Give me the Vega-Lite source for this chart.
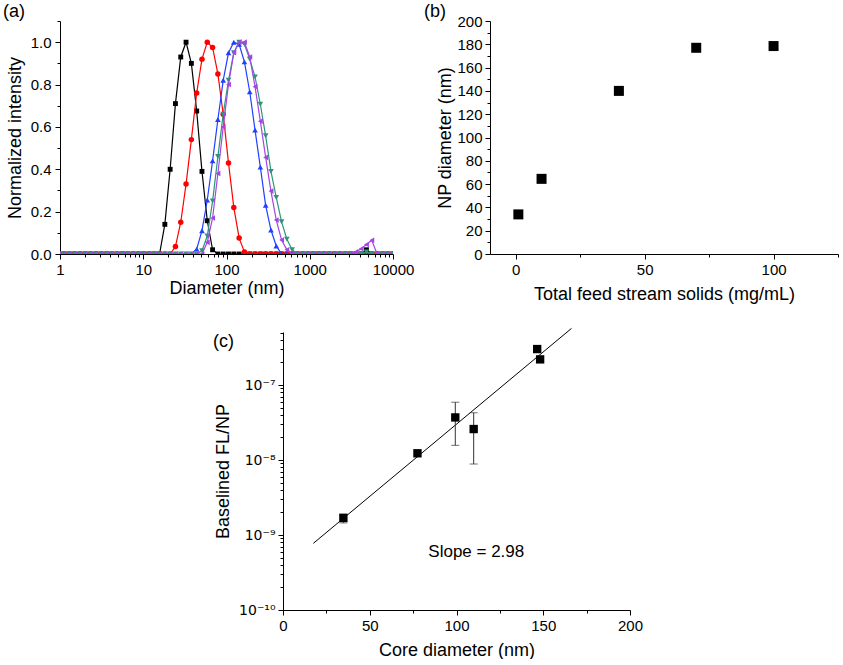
{
"$schema": "https://vega.github.io/schema/vega-lite/v6.json",
"padding": {"left": 3, "top": 3, "right": 0, "bottom": 0},
"background": "white",
"config": {
 "font": "Liberation Sans",
 "view": {"stroke": null},
 "axis": {"labelFont": "Liberation Sans", "titleFont": "Liberation Sans", "labelFontSize": 15, "titleFontSize": 18, "titleFontWeight": "normal", "labelColor": "#000", "titleColor": "#000", "domainColor": "#000", "tickColor": "#000", "grid": false, "labelPadding": 3, "titlePadding": 5, "labelFlush": false, "labelOverlap": false, "tickSize": 5},
 "title": {"font": "Liberation Sans", "fontSize": 18, "fontWeight": "normal", "anchor": "start", "frame": "group", "baseline": "alphabetic", "color": "#000"}
},
"datasets": {
 "dls": [
{"s":"k","d":0.9649,"v":0},{"s":"k","d":1.117,"v":0},{"s":"k","d":1.294,"v":0},{"s":"k","d":1.499,"v":0},{"s":"k","d":1.736,"v":0},{"s":"k","d":2.01,"v":0},{"s":"k","d":2.328,"v":0},{"s":"k","d":2.696,"v":0},{"s":"k","d":3.122,"v":0},{"s":"k","d":3.615,"v":0},{"s":"k","d":4.187,"v":0},{"s":"k","d":4.849,"v":0},{"s":"k","d":5.615,"v":0},{"s":"k","d":6.503,"v":0},{"s":"k","d":7.531,"v":0},{"s":"k","d":8.721,"v":0},{"s":"k","d":10.1,"v":0},{"s":"k","d":11.7,"v":0},{"s":"k","d":13.54,"v":0},{"s":"k","d":15.69,"v":0},{"s":"k","d":18.17,"v":0.14},{"s":"k","d":21.04,"v":0.4},{"s":"k","d":24.36,"v":0.71},{"s":"k","d":28.21,"v":0.93},{"s":"k","d":32.67,"v":1},{"s":"k","d":37.84,"v":0.9},{"s":"k","d":43.82,"v":0.675},{"s":"k","d":50.75,"v":0.39},{"s":"k","d":58.77,"v":0.157},{"s":"k","d":68.06,"v":0.02},{"s":"k","d":78.82,"v":0},{"s":"k","d":91.28,"v":0},{"s":"k","d":105.7,"v":0},{"s":"k","d":122.4,"v":0},{"s":"k","d":141.8,"v":0},{"s":"k","d":164.2,"v":0},{"s":"k","d":190.1,"v":0},{"s":"k","d":220.2,"v":0},{"s":"k","d":255,"v":0},{"s":"k","d":295.3,"v":0},{"s":"k","d":342,"v":0},{"s":"k","d":396.1,"v":0},{"s":"k","d":458.7,"v":0},{"s":"k","d":531.2,"v":0},{"s":"k","d":615.1,"v":0},{"s":"k","d":712.4,"v":0},{"s":"k","d":825,"v":0},{"s":"k","d":955.4,"v":0},{"s":"k","d":1106,"v":0},{"s":"k","d":1281,"v":0},{"s":"k","d":1484,"v":0},{"s":"k","d":1718,"v":0},{"s":"k","d":1990,"v":0},{"s":"k","d":2305,"v":0},{"s":"k","d":2669,"v":0},{"s":"k","d":3091,"v":0},{"s":"k","d":3580,"v":0},{"s":"k","d":4145,"v":0},{"s":"k","d":4801,"v":0.02},{"s":"k","d":5560,"v":0},{"s":"k","d":6439,"v":0},{"s":"k","d":7456,"v":0},{"s":"k","d":8635,"v":0},{"s":"k","d":10000,"v":0},
{"s":"r","d":0.9649,"v":0},{"s":"r","d":1.117,"v":0},{"s":"r","d":1.294,"v":0},{"s":"r","d":1.499,"v":0},{"s":"r","d":1.736,"v":0},{"s":"r","d":2.01,"v":0},{"s":"r","d":2.328,"v":0},{"s":"r","d":2.696,"v":0},{"s":"r","d":3.122,"v":0},{"s":"r","d":3.615,"v":0},{"s":"r","d":4.187,"v":0},{"s":"r","d":4.849,"v":0},{"s":"r","d":5.615,"v":0},{"s":"r","d":6.503,"v":0},{"s":"r","d":7.531,"v":0},{"s":"r","d":8.721,"v":0},{"s":"r","d":10.1,"v":0},{"s":"r","d":11.7,"v":0},{"s":"r","d":13.54,"v":0},{"s":"r","d":15.69,"v":0},{"s":"r","d":18.17,"v":0},{"s":"r","d":21.04,"v":0},{"s":"r","d":24.36,"v":0.035},{"s":"r","d":28.21,"v":0.15},{"s":"r","d":32.67,"v":0.33},{"s":"r","d":37.84,"v":0.54},{"s":"r","d":43.82,"v":0.76},{"s":"r","d":50.75,"v":0.92},{"s":"r","d":58.77,"v":1},{"s":"r","d":68.06,"v":0.975},{"s":"r","d":78.82,"v":0.85},{"s":"r","d":91.28,"v":0.66},{"s":"r","d":105.7,"v":0.43},{"s":"r","d":122.4,"v":0.22},{"s":"r","d":141.8,"v":0.075},{"s":"r","d":164.2,"v":0.01},{"s":"r","d":190.1,"v":0},{"s":"r","d":220.2,"v":0},{"s":"r","d":255,"v":0},{"s":"r","d":295.3,"v":0},{"s":"r","d":342,"v":0},{"s":"r","d":396.1,"v":0},{"s":"r","d":458.7,"v":0},{"s":"r","d":531.2,"v":0},{"s":"r","d":615.1,"v":0},{"s":"r","d":712.4,"v":0},{"s":"r","d":825,"v":0},{"s":"r","d":955.4,"v":0},{"s":"r","d":1106,"v":0},{"s":"r","d":1281,"v":0},{"s":"r","d":1484,"v":0},{"s":"r","d":1718,"v":0},{"s":"r","d":1990,"v":0},{"s":"r","d":2305,"v":0},{"s":"r","d":2669,"v":0},{"s":"r","d":3091,"v":0},{"s":"r","d":3580,"v":0},{"s":"r","d":4145,"v":0},{"s":"r","d":4801,"v":0},{"s":"r","d":5560,"v":0},{"s":"r","d":6439,"v":0},{"s":"r","d":7456,"v":0},{"s":"r","d":8635,"v":0},{"s":"r","d":10000,"v":0},
{"s":"b","d":0.9649,"v":0},{"s":"b","d":1.117,"v":0},{"s":"b","d":1.294,"v":0},{"s":"b","d":1.499,"v":0},{"s":"b","d":1.736,"v":0},{"s":"b","d":2.01,"v":0},{"s":"b","d":2.328,"v":0},{"s":"b","d":2.696,"v":0},{"s":"b","d":3.122,"v":0},{"s":"b","d":3.615,"v":0},{"s":"b","d":4.187,"v":0},{"s":"b","d":4.849,"v":0},{"s":"b","d":5.615,"v":0},{"s":"b","d":6.503,"v":0},{"s":"b","d":7.531,"v":0},{"s":"b","d":8.721,"v":0},{"s":"b","d":10.1,"v":0},{"s":"b","d":11.7,"v":0},{"s":"b","d":13.54,"v":0},{"s":"b","d":15.69,"v":0},{"s":"b","d":18.17,"v":0},{"s":"b","d":21.04,"v":0},{"s":"b","d":24.36,"v":0},{"s":"b","d":28.21,"v":0},{"s":"b","d":32.67,"v":0},{"s":"b","d":37.84,"v":0},{"s":"b","d":43.82,"v":0.023},{"s":"b","d":50.75,"v":0.11},{"s":"b","d":58.77,"v":0.255},{"s":"b","d":68.06,"v":0.44},{"s":"b","d":78.82,"v":0.635},{"s":"b","d":91.28,"v":0.82},{"s":"b","d":105.7,"v":0.95},{"s":"b","d":122.4,"v":1},{"s":"b","d":141.8,"v":0.99},{"s":"b","d":164.2,"v":0.907},{"s":"b","d":190.1,"v":0.766},{"s":"b","d":220.2,"v":0.585},{"s":"b","d":255,"v":0.41},{"s":"b","d":295.3,"v":0.23},{"s":"b","d":342,"v":0.113},{"s":"b","d":396.1,"v":0.038},{"s":"b","d":458.7,"v":0},{"s":"b","d":531.2,"v":0},{"s":"b","d":615.1,"v":0},{"s":"b","d":712.4,"v":0},{"s":"b","d":825,"v":0},{"s":"b","d":955.4,"v":0},{"s":"b","d":1106,"v":0},{"s":"b","d":1281,"v":0},{"s":"b","d":1484,"v":0},{"s":"b","d":1718,"v":0},{"s":"b","d":1990,"v":0},{"s":"b","d":2305,"v":0},{"s":"b","d":2669,"v":0},{"s":"b","d":3091,"v":0},{"s":"b","d":3580,"v":0},{"s":"b","d":4145,"v":0},{"s":"b","d":4801,"v":0},{"s":"b","d":5560,"v":0},{"s":"b","d":6439,"v":0},{"s":"b","d":7456,"v":0},{"s":"b","d":8635,"v":0},{"s":"b","d":10000,"v":0},
{"s":"g","d":0.9649,"v":0},{"s":"g","d":1.117,"v":0},{"s":"g","d":1.294,"v":0},{"s":"g","d":1.499,"v":0},{"s":"g","d":1.736,"v":0},{"s":"g","d":2.01,"v":0},{"s":"g","d":2.328,"v":0},{"s":"g","d":2.696,"v":0},{"s":"g","d":3.122,"v":0},{"s":"g","d":3.615,"v":0},{"s":"g","d":4.187,"v":0},{"s":"g","d":4.849,"v":0},{"s":"g","d":5.615,"v":0},{"s":"g","d":6.503,"v":0},{"s":"g","d":7.531,"v":0},{"s":"g","d":8.721,"v":0},{"s":"g","d":10.1,"v":0},{"s":"g","d":11.7,"v":0},{"s":"g","d":13.54,"v":0},{"s":"g","d":15.69,"v":0},{"s":"g","d":18.17,"v":0},{"s":"g","d":21.04,"v":0},{"s":"g","d":24.36,"v":0},{"s":"g","d":28.21,"v":0},{"s":"g","d":32.67,"v":0},{"s":"g","d":37.84,"v":0},{"s":"g","d":43.82,"v":0},{"s":"g","d":50.75,"v":0.015},{"s":"g","d":58.77,"v":0.085},{"s":"g","d":68.06,"v":0.25},{"s":"g","d":78.82,"v":0.46},{"s":"g","d":91.28,"v":0.66},{"s":"g","d":105.7,"v":0.82},{"s":"g","d":122.4,"v":0.95},{"s":"g","d":141.8,"v":1},{"s":"g","d":164.2,"v":0.99},{"s":"g","d":190.1,"v":0.92},{"s":"g","d":220.2,"v":0.836},{"s":"g","d":255,"v":0.707},{"s":"g","d":295.3,"v":0.558},{"s":"g","d":342,"v":0.39},{"s":"g","d":396.1,"v":0.267},{"s":"g","d":458.7,"v":0.152},{"s":"g","d":531.2,"v":0.07},{"s":"g","d":615.1,"v":0.02},{"s":"g","d":712.4,"v":0},{"s":"g","d":825,"v":0},{"s":"g","d":955.4,"v":0},{"s":"g","d":1106,"v":0},{"s":"g","d":1281,"v":0},{"s":"g","d":1484,"v":0},{"s":"g","d":1718,"v":0},{"s":"g","d":1990,"v":0},{"s":"g","d":2305,"v":0},{"s":"g","d":2669,"v":0},{"s":"g","d":3091,"v":0},{"s":"g","d":3580,"v":0},{"s":"g","d":4145,"v":0},{"s":"g","d":4801,"v":0.01},{"s":"g","d":5560,"v":0},{"s":"g","d":6439,"v":0},{"s":"g","d":7456,"v":0},{"s":"g","d":8635,"v":0},{"s":"g","d":10000,"v":0},
{"s":"p","d":0.9649,"v":0},{"s":"p","d":1.117,"v":0},{"s":"p","d":1.294,"v":0},{"s":"p","d":1.499,"v":0},{"s":"p","d":1.736,"v":0},{"s":"p","d":2.01,"v":0},{"s":"p","d":2.328,"v":0},{"s":"p","d":2.696,"v":0},{"s":"p","d":3.122,"v":0},{"s":"p","d":3.615,"v":0},{"s":"p","d":4.187,"v":0},{"s":"p","d":4.849,"v":0},{"s":"p","d":5.615,"v":0},{"s":"p","d":6.503,"v":0},{"s":"p","d":7.531,"v":0},{"s":"p","d":8.721,"v":0},{"s":"p","d":10.1,"v":0},{"s":"p","d":11.7,"v":0},{"s":"p","d":13.54,"v":0},{"s":"p","d":15.69,"v":0},{"s":"p","d":18.17,"v":0},{"s":"p","d":21.04,"v":0},{"s":"p","d":24.36,"v":0},{"s":"p","d":28.21,"v":0},{"s":"p","d":32.67,"v":0},{"s":"p","d":37.84,"v":0},{"s":"p","d":43.82,"v":0},{"s":"p","d":50.75,"v":0},{"s":"p","d":58.77,"v":0.055},{"s":"p","d":68.06,"v":0.17},{"s":"p","d":78.82,"v":0.38},{"s":"p","d":91.28,"v":0.6},{"s":"p","d":105.7,"v":0.8},{"s":"p","d":122.4,"v":0.95},{"s":"p","d":141.8,"v":1},{"s":"p","d":164.2,"v":1},{"s":"p","d":190.1,"v":0.93},{"s":"p","d":220.2,"v":0.79},{"s":"p","d":255,"v":0.627},{"s":"p","d":295.3,"v":0.456},{"s":"p","d":342,"v":0.297},{"s":"p","d":396.1,"v":0.16},{"s":"p","d":458.7,"v":0.066},{"s":"p","d":531.2,"v":0.02},{"s":"p","d":615.1,"v":0},{"s":"p","d":712.4,"v":0},{"s":"p","d":825,"v":0},{"s":"p","d":955.4,"v":0},{"s":"p","d":1106,"v":0},{"s":"p","d":1281,"v":0},{"s":"p","d":1484,"v":0},{"s":"p","d":1718,"v":0},{"s":"p","d":1990,"v":0},{"s":"p","d":2305,"v":0},{"s":"p","d":2669,"v":0},{"s":"p","d":3091,"v":0},{"s":"p","d":3580,"v":0.01},{"s":"p","d":4145,"v":0.025},{"s":"p","d":4801,"v":0.045},{"s":"p","d":5560,"v":0.065},{"s":"p","d":6439,"v":0},{"s":"p","d":7456,"v":0},{"s":"p","d":8635,"v":0},{"s":"p","d":10000,"v":0}
 ]
},
"bounds": "full",
"spacing": 22,
"vconcat": [
 {
  "bounds": "flush",
  "spacing": 97,
  "hconcat": [
   {
    "width": 333, "height": 233,
    "title": {"text": "(a)", "dx": -57, "offset": -7},
    "data": {"name": "dls"},
    "encoding": {
     "x": {"field": "d", "type": "quantitative", "title": "Diameter (nm)",
       "scale": {"type": "log", "domain": [1, 10000], "nice": false},
       "axis": {"values": [1,2,3,4,5,6,7,8,9,10,20,30,40,50,60,70,80,90,100,200,300,400,500,600,700,800,900,1000,2000,3000,4000,5000,6000,7000,8000,9000,10000],
         "format": "d",
         "labelExpr": "indexof([1,10,100,1000,10000], datum.value) >= 0 ? datum.label : ''",
         "tickSize": {"condition": {"test": "indexof([1,10,100,1000,10000], datum.value) >= 0", "value": 5}, "value": 3},
         "titlePadding": 2}},
     "y": {"field": "v", "type": "quantitative", "title": "Normalized intensity",
       "scale": {"domain": [0, 1.1], "nice": false},
       "axis": {"values": [0,0.1,0.2,0.3,0.4,0.5,0.6,0.7,0.8,0.9,1,1.1],
         "format": ".1f",
         "labelExpr": "indexof([0,0.2,0.4,0.6,0.8,1], datum.value) >= 0 ? datum.label : ''",
         "tickSize": {"condition": {"test": "indexof([0,0.2,0.4,0.6,0.8,1], datum.value) >= 0", "value": 5}, "value": 3},
         "labelPadding": 4, "titlePadding": 6}}
    },
    "layer": [
     {"transform": [{"filter": "datum.s === 'k'"}], "layer": [
       {"mark": {"type": "line", "color": "#000000", "strokeWidth": 1.2, "clip": true}},
       {"mark": {"type": "point", "shape": "square", "filled": true, "size": 24, "color": "#000000", "opacity": 1, "clip": true}}]},
     {"transform": [{"filter": "datum.s === 'r'"}], "layer": [
       {"mark": {"type": "line", "color": "#ff0000", "strokeWidth": 1.2, "clip": true}},
       {"mark": {"type": "point", "shape": "circle", "filled": true, "size": 30, "color": "#ff0000", "opacity": 1, "clip": true}}]},
     {"transform": [{"filter": "datum.s === 'b'"}], "layer": [
       {"mark": {"type": "line", "color": "#2040ff", "strokeWidth": 1.2, "clip": true}},
       {"mark": {"type": "point", "shape": "triangle-up", "filled": true, "size": 32, "color": "#2040ff", "opacity": 1, "clip": true}}]},
     {"transform": [{"filter": "datum.s === 'g'"}], "layer": [
       {"mark": {"type": "line", "color": "#2e957a", "strokeWidth": 1.2, "clip": true}},
       {"mark": {"type": "point", "shape": "triangle-down", "filled": true, "size": 32, "color": "#2e957a", "opacity": 1, "clip": true}}]},
     {"transform": [{"filter": "datum.s === 'p'"}], "layer": [
       {"mark": {"type": "line", "color": "#a545e6", "strokeWidth": 1.2, "clip": true}},
       {"mark": {"type": "point", "shape": "triangle-left", "filled": true, "size": 32, "color": "#a545e6", "opacity": 1, "clip": true}}]}
    ]
   },
   {
    "width": 348, "height": 233,
    "title": {"text": "(b)", "dx": -66, "offset": -7},
    "data": {"values": [{"x": 1, "y": 34}, {"x": 10, "y": 64.5}, {"x": 40, "y": 140}, {"x": 70, "y": 177}, {"x": 100, "y": 178.5}]},
    "mark": {"type": "point", "shape": "square", "filled": true, "size": 100, "color": "#000000", "opacity": 1},
    "encoding": {
     "x": {"field": "x", "type": "quantitative", "title": "Total feed stream solids (mg/mL)",
       "scale": {"domain": [-10, 125], "nice": false, "zero": false},
       "axis": {"values": [0,25,50,75,100,125],
         "labelExpr": "datum.value % 50 === 0 && datum.value < 125 ? datum.label : ''",
         "tickSize": {"condition": {"test": "datum.value % 50 === 0", "value": 5}, "value": 3},
         "titlePadding": 8}},
     "y": {"field": "y", "type": "quantitative", "title": "NP diameter (nm)",
       "scale": {"domain": [0, 200], "nice": false},
       "axis": {"values": [0,10,20,30,40,50,60,70,80,90,100,110,120,130,140,150,160,170,180,190,200],
         "labelExpr": "datum.value % 20 === 0 ? datum.label : ''",
         "tickSize": {"condition": {"test": "datum.value % 20 === 0", "value": 5}, "value": 3},
         "labelPadding": 3, "titlePadding": 2}}
    }
   }
  ]
 },
 {
  "bounds": "flush",
  "spacing": 10,
  "hconcat": [
   {"width": 213, "height": 10, "data": {"values": []}, "mark": "point"},
   {
    "width": 347, "height": 278,
    "title": {"text": "(c)", "dx": -70, "dy": 25, "offset": 0},
    "layer": [
     {
      "data": {"values": [{"x": 17.5, "y": 7.75e-10}, {"x": 166.3, "y": 5.7e-7}]},
      "mark": {"type": "line", "color": "#000000", "strokeWidth": 1},
      "encoding": {
       "x": {"field": "x", "type": "quantitative", "title": "Core diameter (nm)",
         "scale": {"domain": [0, 200], "nice": false},
         "axis": {"values": [0,25,50,75,100,125,150,175,200],
           "labelExpr": "datum.value % 50 === 0 ? datum.label : ''",
           "tickSize": {"condition": {"test": "datum.value % 50 === 0", "value": 5}, "value": 3},
           "titlePadding": 8}},
       "y": {"field": "y", "type": "quantitative", "title": "Baselined FL/NP",
         "scale": {"type": "log", "domain": [1e-10, 5.1e-7], "nice": false},
         "axis": {"values": [1e-10,2e-10,3e-10,4e-10,5e-10,6e-10,7e-10,8e-10,9e-10,1e-9,2e-9,3e-9,4e-9,5e-9,6e-9,7e-9,8e-9,9e-9,1e-8,2e-8,3e-8,4e-8,5e-8,6e-8,7e-8,8e-8,9e-8,1e-7,2e-7,3e-7,4e-7,5e-7],
           "labelExpr": "datum.value === 1e-10 ? '10⁻¹⁰' : datum.value === 1e-9 ? '10⁻⁹' : datum.value === 1e-8 ? '10⁻⁸' : datum.value === 1e-7 ? '10⁻⁷' : ''",
           "labelFont": "DejaVu Sans", "labelFontSize": 14,
           "tickSize": {"condition": {"test": "indexof([1e-10,1e-9,1e-8,1e-7], datum.value) >= 0", "value": 5}, "value": 3},
           "labelPadding": 3, "titlePadding": 6}}
      }
     },
     {
      "data": {"values": [{"x": 34.8, "lo": 1.45e-9, "hi": 1.9e-9}, {"x": 99.3, "lo": 1.57e-8, "hi": 5.9e-8}, {"x": 109.9, "lo": 8.85e-9, "hi": 4.27e-8}]},
      "mark": {"type": "errorbar", "ticks": true, "size": 8, "thickness": 1, "color": "#333333"},
      "encoding": {
       "x": {"field": "x", "type": "quantitative", "title": "Core diameter (nm)", "scale": {"domain": [0, 200], "nice": false}},
       "y": {"field": "lo", "type": "quantitative", "title": "Baselined FL/NP", "scale": {"type": "log", "domain": [1e-10, 5.1e-7], "nice": false}},
       "y2": {"field": "hi"}
      }
     },
     {
      "data": {"values": [{"x": 34.8, "y": 1.69e-9}, {"x": 77.5, "y": 1.23e-8}, {"x": 99.3, "y": 3.7e-8}, {"x": 109.9, "y": 2.59e-8}, {"x": 146.5, "y": 3.02e-7}, {"x": 148.2, "y": 2.2e-7}]},
      "mark": {"type": "point", "shape": "square", "filled": true, "size": 70, "color": "#000000", "opacity": 1},
      "encoding": {
       "x": {"field": "x", "type": "quantitative", "title": "Core diameter (nm)", "scale": {"domain": [0, 200], "nice": false}},
       "y": {"field": "y", "type": "quantitative", "title": "Baselined FL/NP", "scale": {"type": "log", "domain": [1e-10, 5.1e-7], "nice": false}}
      }
     },
     {
      "data": {"values": [{"x": 111.4, "y": 5.9e-10, "label": "Slope = 2.98"}]},
      "mark": {"type": "text", "fontSize": 17, "font": "Liberation Sans", "color": "#000000"},
      "encoding": {
       "x": {"field": "x", "type": "quantitative", "title": "Core diameter (nm)", "scale": {"domain": [0, 200], "nice": false}},
       "y": {"field": "y", "type": "quantitative", "title": "Baselined FL/NP", "scale": {"type": "log", "domain": [1e-10, 5.1e-7], "nice": false}},
       "text": {"field": "label"}
      }
     }
    ]
   }
  ]
 }
]
}
